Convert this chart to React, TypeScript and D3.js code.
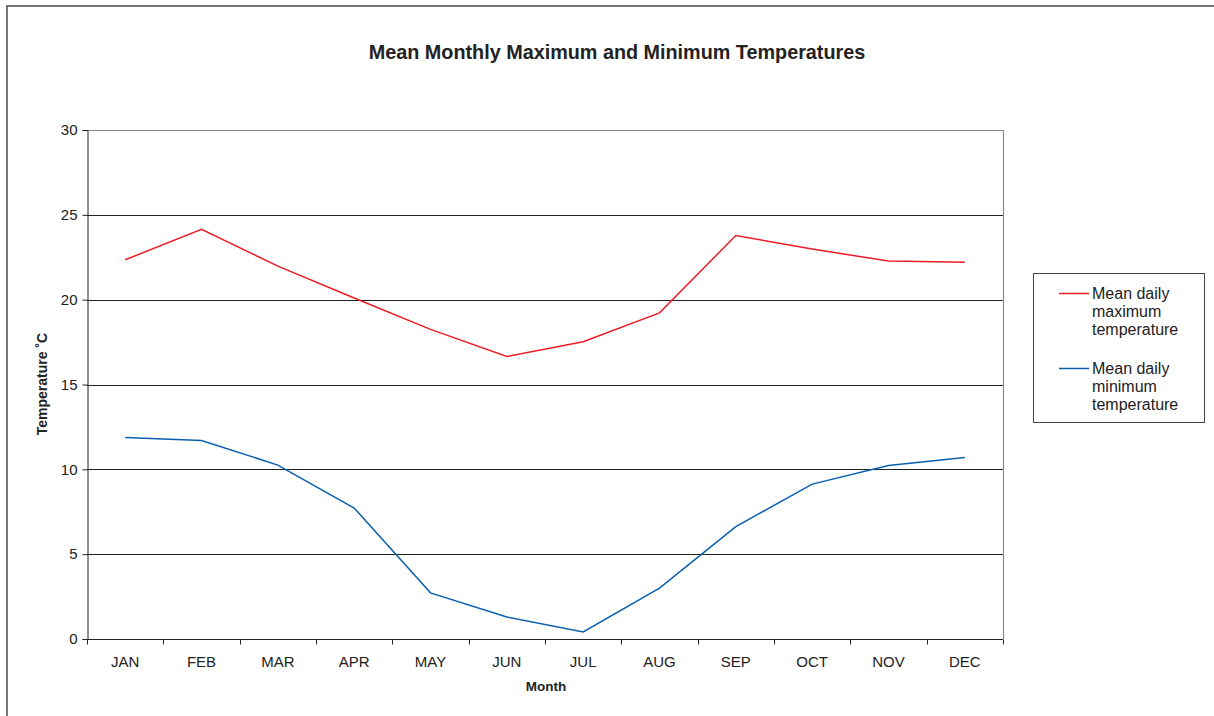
import React, { useEffect, useRef } from "react";
import * as d3 from "d3";

const months = ["JAN", "FEB", "MAR", "APR", "MAY", "JUN", "JUL", "AUG", "SEP", "OCT", "NOV", "DEC"];
const maxTemps = [22.35, 24.15, 21.98, 20.1, 18.25, 16.65, 17.52, 19.22, 23.78, 22.98, 22.28, 22.2];
const minTemps = [11.88, 11.7, 10.25, 7.72, 2.72, 1.3, 0.42, 3.0, 6.62, 9.13, 10.22, 10.7];
const yTicks = [0, 5, 10, 15, 20, 25, 30];
const seriesNames = ["Mean daily maximum temperature", "Mean daily minimum temperature"];
const seriesLabels = [["Mean daily", "maximum", "temperature"], ["Mean daily", "minimum", "temperature"]];
const seriesColors = ["#ee1c25", "#0b5fad"];

export default function App() {
  const ref = useRef<SVGSVGElement>(null);
  useEffect(() => {
    const svg = d3.select(ref.current);
    svg.selectAll("*").remove();
    const W = 1214, H = 716;
    const font = "'Liberation Sans', Arial, sans-serif";
    const left = 87, right = 1003, top = 130, bottom = 639;

    svg.append("rect").attr("x", 0).attr("y", 0).attr("width", W).attr("height", H).attr("fill", "#fff");
    svg.append("rect").attr("x", 7).attr("y", 6).attr("width", W + 20).attr("height", H + 20)
      .attr("fill", "none").attr("stroke", "#555").attr("stroke-width", 1.6);

    const x = d3.scaleBand<string>().domain(months).range([left, right]);
    const y = d3.scaleLinear().domain([0, 30]).range([bottom, top]);

    // gridlines
    svg.append("g").selectAll("line").data(yTicks.filter(t => t > 0 && t < 30)).join("line")
      .attr("x1", left).attr("x2", right)
      .attr("y1", d => Math.round(y(d)) + 0.5).attr("y2", d => Math.round(y(d)) + 0.5)
      .attr("stroke", "#222").attr("stroke-width", 1);

    // plot border top/right
    svg.append("line").attr("x1", left).attr("x2", right).attr("y1", top + 0.5).attr("y2", top + 0.5)
      .attr("stroke", "#888").attr("stroke-width", 1.2);
    svg.append("line").attr("x1", right + 0.5).attr("x2", right + 0.5).attr("y1", top).attr("y2", bottom)
      .attr("stroke", "#888").attr("stroke-width", 1.2);

    // y axis
    const yAxis = d3.axisLeft(y).tickValues(yTicks).tickSize(5).tickPadding(5).tickFormat(d3.format("d"));
    const gy = svg.append("g").attr("transform", `translate(${left + 0.5},0)`).call(yAxis);
    gy.selectAll("path,line").attr("stroke", "#222");
    gy.selectAll("text").attr("font-family", font).attr("font-size", 15).attr("fill", "#222");

    // x axis
    const gx = svg.append("g").attr("transform", `translate(0,${bottom + 0.5})`);
    gx.append("line").attr("x1", left).attr("x2", right).attr("stroke", "#222");
    const bounds = months.map(m => x(m)!).concat([right]);
    gx.selectAll("line.tk").data(bounds).join("line").attr("class", "tk")
      .attr("x1", d => Math.round(d) + 0.5).attr("x2", d => Math.round(d) + 0.5).attr("y1", 0).attr("y2", 5)
      .attr("stroke", "#222");
    gx.selectAll("text").data(months).join("text")
      .attr("x", d => x(d)! + x.bandwidth() / 2).attr("y", 27)
      .attr("text-anchor", "middle").attr("font-family", font).attr("font-size", 15).attr("fill", "#222")
      .text(d => d);

    // lines
    const line = d3.line<number>().x((_, i) => x(months[i])! + x.bandwidth() / 2).y(d => y(d));
    [maxTemps, minTemps].forEach((data, i) => {
      svg.append("path").datum(data).attr("d", line).attr("fill", "none")
        .attr("stroke", seriesColors[i]).attr("stroke-width", 1.5);
    });

    // titles
    svg.append("text").attr("x", 617).attr("y", 59).attr("text-anchor", "middle")
      .attr("font-family", font).attr("font-weight", "bold").attr("font-size", 19.8).attr("fill", "#222")
      .text("Mean Monthly Maximum and Minimum Temperatures");
    svg.append("text").attr("x", 546).attr("y", 691).attr("text-anchor", "middle")
      .attr("font-family", font).attr("font-weight", "bold").attr("font-size", 13.5).attr("fill", "#222")
      .text("Month");
    svg.append("text").attr("transform", `translate(47,384) rotate(-90)`).attr("text-anchor", "middle")
      .attr("font-family", font).attr("font-weight", "bold").attr("font-size", 14).attr("fill", "#222")
      .text("Temperature ˚C");

    // legend
    svg.append("rect").attr("x", 1033.5).attr("y", 273.5).attr("width", 171).attr("height", 149)
      .attr("fill", "#fff").attr("stroke", "#444").attr("stroke-width", 1);
    seriesNames.forEach((_, i) => {
      const cy = 293 + i * 75;
      svg.append("line").attr("x1", 1059).attr("x2", 1089).attr("y1", cy + 0.5).attr("y2", cy + 0.5)
        .attr("stroke", seriesColors[i]).attr("stroke-width", 1.5);
      seriesLabels[i].forEach((t, j) => {
        svg.append("text").attr("x", 1092).attr("y", cy + 5.5 + j * 18.3)
          .attr("font-family", font).attr("font-size", 16).attr("fill", "#222").text(t);
      });
    });
  }, []);
  return (
    <svg ref={ref} width={1214} height={716}
      style={{ display: "block", position: "absolute", left: 0, top: 0 }} />
  );
}
